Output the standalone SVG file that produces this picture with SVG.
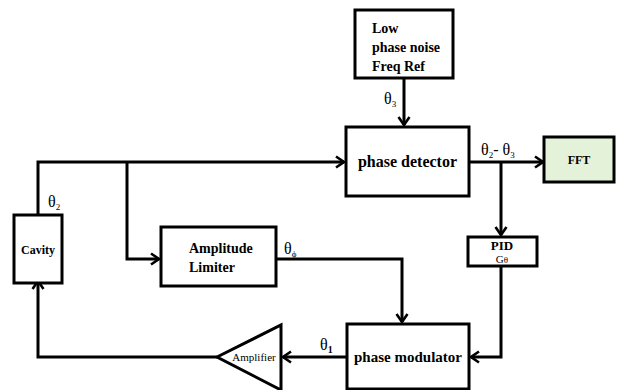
<svg xmlns="http://www.w3.org/2000/svg" width="618" height="390" viewBox="0 0 618 390">
<style>
.box{fill:#fff;stroke:#000;stroke-width:3}
.ln{fill:none;stroke:#000;stroke-width:3}
.b{font-family:"Liberation Serif",serif;font-weight:bold;fill:#000}
.n{font-family:"Liberation Serif",serif;fill:#000}
</style>
<defs>
<marker id="arr" viewBox="0 0 12 14" refX="10" refY="7" markerWidth="12" markerHeight="14" orient="auto" markerUnits="userSpaceOnUse">
<path d="M2,1.5 L10,7 L2,12.5" fill="none" stroke="#000" stroke-width="2.6"/>
</marker>
</defs>
<rect width="618" height="390" fill="#fff"/>
<g id="connectors">
<path class="ln" d="M404,78 V125" marker-end="url(#arr)"/>
<path class="ln" d="M38,215 V162 H344" marker-end="url(#arr)"/>
<path class="ln" d="M127,162 V259 H159" marker-end="url(#arr)"/>
<path class="ln" d="M276,259 H402 V322" marker-end="url(#arr)"/>
<path class="ln" d="M469,162 H543" marker-end="url(#arr)"/>
<path class="ln" d="M501,162 V235" marker-end="url(#arr)"/>
<path class="ln" d="M501,266 V357 H471" marker-end="url(#arr)"/>
<path class="ln" d="M347,357 H283" marker-end="url(#arr)"/>
<path class="ln" d="M217,357 H38 V281" marker-end="url(#arr)"/>
</g>
<g id="freqref">
<rect class="box" x="355" y="10" width="98" height="68"/>
<text class="b" x="372" y="33" font-size="14">Low</text>
<text class="b" x="372" y="52" font-size="14">phase noise</text>
<text class="b" x="372" y="71" font-size="14">Freq Ref</text>
</g>
<g id="phasedetector">
<rect class="box" x="346" y="127" width="123" height="69"/>
<text class="b" x="407.5" y="167" font-size="16" text-anchor="middle">phase detector</text>
</g>
<g id="fft">
<rect x="544" y="137" width="70" height="45" fill="#e4f2da" stroke="#000" stroke-width="3"/>
<text class="b" x="579" y="164" font-size="12" text-anchor="middle">FFT</text>
</g>
<g id="pid">
<rect class="box" x="468" y="237" width="69" height="29"/>
<text class="b" x="502" y="250" font-size="13" text-anchor="middle">PID</text>
<text class="n" x="502" y="263" font-size="11" text-anchor="middle">G<tspan font-size="9">θ</tspan></text>
</g>
<g id="cavity">
<rect class="box" x="14" y="215" width="48" height="68"/>
<text class="b" x="38" y="254" font-size="12" text-anchor="middle">Cavity</text>
</g>
<g id="limiter">
<rect class="box" x="161" y="227" width="115" height="59"/>
<text class="b" x="189" y="253" font-size="14">Amplitude</text>
<text class="b" x="189" y="272" font-size="14">Limiter</text>
</g>
<g id="modulator">
<rect class="box" x="347" y="324" width="122" height="65"/>
<text class="b" x="408" y="362" font-size="15" text-anchor="middle">phase modulator</text>
</g>
<g id="amplifier">
<polygon points="217,357 281,325 281,390" fill="#fff" stroke="#000" stroke-width="3"/>
<text class="n" x="254" y="361" font-size="11" text-anchor="middle">Amplifier</text>
</g>
<g id="labels">
<text class="n" x="384" y="104" font-size="16">θ<tspan font-size="9" dy="3">3</tspan></text>
<text class="n" x="48" y="207" font-size="16">θ<tspan font-size="9" dy="3">2</tspan></text>
<text class="n" x="284" y="254" font-size="16">θ<tspan font-size="9" dy="3">ϕ</tspan></text>
<text class="n" x="320" y="350" font-size="16">θ<tspan font-size="10" dy="3" font-weight="bold">1</tspan></text>
<text class="n" x="481" y="155" font-size="16">θ<tspan font-size="9" dy="3">2</tspan><tspan dy="-3">- θ</tspan><tspan font-size="9" dy="3">3</tspan></text>
</g>
</svg>
